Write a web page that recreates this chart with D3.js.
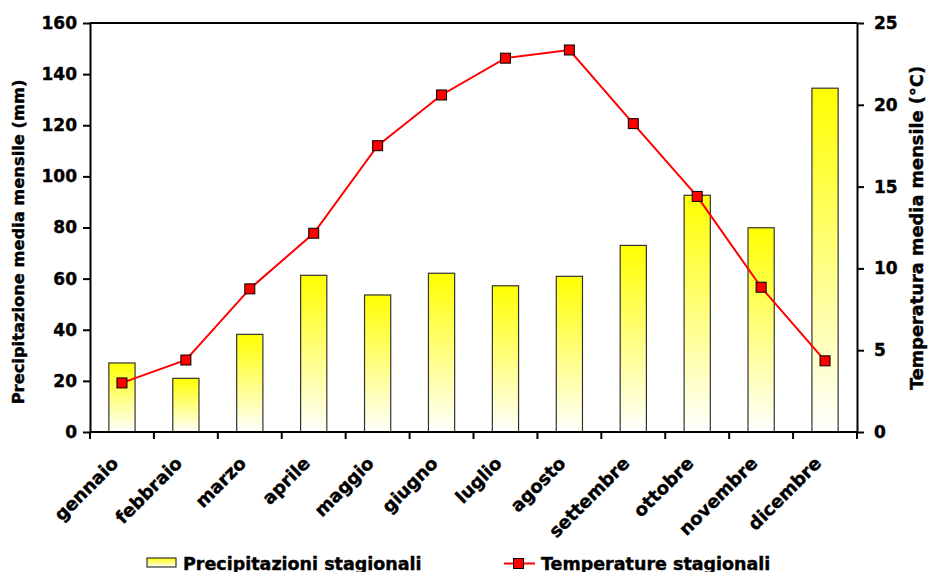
<!DOCTYPE html>
<html>
<head>
<meta charset="utf-8">
<script src="https://cdn.jsdelivr.net/npm/d3@7"></script>
<style>
  html, body { margin: 0; padding: 0; background: #fff; }
  svg { display: block; font-family: "DejaVu Sans", Verdana, sans-serif; font-weight: bold; }
  svg text { fill: #000; stroke: #000; stroke-width: 0.4px; }
</style>
</head>
<body>
<svg id="chart" width="929" height="572"></svg>
<script>
// Monthly climate data
const months = ["gennaio", "febbraio", "marzo", "aprile", "maggio", "giugno",
                "luglio", "agosto", "settembre", "ottobre", "novembre", "dicembre"];
const precipitation = [27, 21, 38.2, 61.3, 53.6, 62.1, 57.2, 60.9, 73.0, 92.6, 79.9, 134.5];
const temperature = [3.0, 4.4, 8.75, 12.15, 17.5, 20.6, 22.85, 23.35, 18.85, 14.4, 8.85, 4.35];
const leftTicks = [0, 20, 40, 60, 80, 100, 120, 140, 160];
const rightTicks = [0, 5, 10, 15, 20, 25];

const svg = d3.select("#chart");
const plot = { left: 90, right: 857, top: 23, bottom: 432 };

const x = d3.scaleBand().domain(months).range([plot.left, plot.right]).paddingInner(0.59).paddingOuter(0.295);
const xStep = d3.scaleBand().domain(months).range([plot.left, plot.right]);
const yP = d3.scaleLinear().domain([0, 160]).range([plot.bottom, plot.top]);
const yT = d3.scaleLinear().domain([0, 25]).range([plot.bottom, plot.top]);

// Bar gradient: yellow at top fading to white at the base
const defs = svg.append("defs");
const grad = defs.append("linearGradient").attr("id", "barGrad")
  .attr("x1", 0).attr("y1", 0).attr("x2", 0).attr("y2", 1);
grad.append("stop").attr("offset", "0%").attr("stop-color", "#ffff00");
grad.append("stop").attr("offset", "100%").attr("stop-color", "#ffffff");

// Bars
svg.append("g").selectAll("rect").data(months).join("rect")
  .attr("x", d => x(d))
  .attr("y", (d, i) => yP(precipitation[i]))
  .attr("width", x.bandwidth())
  .attr("height", (d, i) => plot.bottom - yP(precipitation[i]))
  .attr("fill", "url(#barGrad)")
  .attr("stroke", "#333")
  .attr("stroke-width", 1.2);

// Frame top line
svg.append("line")
  .attr("x1", plot.left).attr("x2", plot.right)
  .attr("y1", plot.top).attr("y2", plot.top)
  .attr("stroke", "#000").attr("stroke-width", 2);

// Left axis
const leftAxis = svg.append("g").attr("transform", `translate(${plot.left},0)`)
  .call(d3.axisLeft(yP).tickValues(leftTicks).tickSize(7).tickPadding(6).tickSizeOuter(0));
// Right axis
const rightAxis = svg.append("g").attr("transform", `translate(${plot.right},0)`)
  .call(d3.axisRight(yT).tickValues(rightTicks).tickSize(7).tickPadding(10).tickSizeOuter(0));

[leftAxis, rightAxis].forEach(g => {
  g.select(".domain").attr("stroke", "#000").attr("stroke-width", 2);
  g.selectAll(".tick line").attr("stroke", "#000").attr("stroke-width", 2);
  g.selectAll(".tick text")
    .style("font-size", "17px").style("font-weight", "bold")
    .style("font-family", "'DejaVu Sans', Verdana, sans-serif");
});

// Bottom axis: ticks at category boundaries
const boundaries = months.map(m => xStep(m)).concat([plot.right]);
const bottom = svg.append("g");
bottom.append("line")
  .attr("x1", plot.left).attr("x2", plot.right)
  .attr("y1", plot.bottom).attr("y2", plot.bottom)
  .attr("stroke", "#000").attr("stroke-width", 2);
bottom.selectAll("line.tk").data(boundaries).join("line").attr("class", "tk")
  .attr("x1", d => d).attr("x2", d => d)
  .attr("y1", plot.bottom).attr("y2", plot.bottom + 7)
  .attr("stroke", "#000").attr("stroke-width", 2);
bottom.selectAll("text").data(months).join("text")
  .attr("transform", d => `translate(${x(d) + x.bandwidth() / 2 - 7},${plot.bottom + 28}) rotate(-45)`)
  .attr("text-anchor", "end")
  .attr("dy", "0.35em")
  .style("font-size", "18px")
  .text(d => d);

// Temperature line with square markers
const line = d3.line()
  .x((d, i) => x(months[i]) + x.bandwidth() / 2)
  .y(d => yT(d));
svg.append("path").datum(temperature)
  .attr("d", line)
  .attr("fill", "none")
  .attr("stroke", "#ff0000")
  .attr("stroke-width", 2);
const ms = 10;
svg.append("g").selectAll("rect").data(temperature).join("rect")
  .attr("x", (d, i) => x(months[i]) + x.bandwidth() / 2 - ms / 2)
  .attr("y", d => yT(d) - ms / 2)
  .attr("width", ms).attr("height", ms)
  .attr("fill", "#ff0000")
  .attr("stroke", "#000").attr("stroke-width", 1);

// Axis titles
svg.append("text")
  .attr("transform", `translate(24,242) rotate(-90)`)
  .attr("text-anchor", "middle")
  .style("font-size", "16.3px")
  .text("Precipitazione media mensile (mm)");
svg.append("text")
  .attr("transform", `translate(923,228) rotate(-90)`)
  .attr("text-anchor", "middle")
  .style("font-size", "17.8px")
  .text("Temperatura media mensile (°C)");

// Legend
const legend = svg.append("g");
legend.append("rect")
  .attr("x", 147).attr("y", 558).attr("width", 29).attr("height", 9)
  .attr("fill", "url(#barGrad)").attr("stroke", "#333").attr("stroke-width", 1.2);
legend.append("text").attr("x", 183).attr("y", 570)
  .style("font-size", "17.5px").text("Precipitazioni stagionali");
legend.append("line")
  .attr("x1", 504).attr("x2", 535).attr("y1", 563.5).attr("y2", 563.5)
  .attr("stroke", "#ff0000").attr("stroke-width", 2);
legend.append("rect")
  .attr("x", 513.5).attr("y", 558.5).attr("width", 10).attr("height", 10)
  .attr("fill", "#ff0000").attr("stroke", "#000").attr("stroke-width", 1);
legend.append("text").attr("x", 541).attr("y", 570)
  .style("font-size", "17.5px").text("Temperature stagionali");
</script>
</body>
</html>
